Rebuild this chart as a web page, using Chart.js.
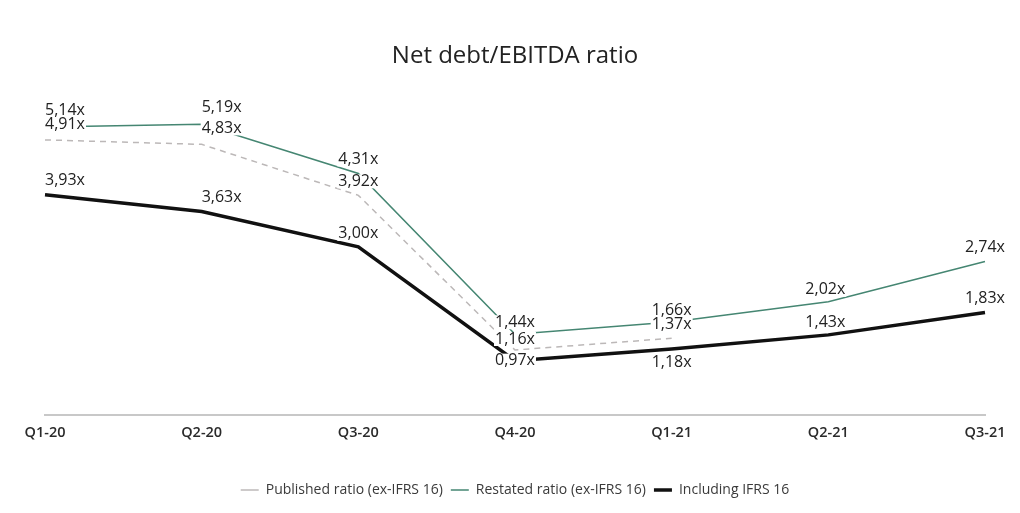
<!DOCTYPE html>
<html>
<head>
<meta charset="utf-8">
<script src="https://cdn.jsdelivr.net/npm/chart.js@4"></script>
<style>
  html, body { margin: 0; padding: 0; background: #fff; }
  #wrap { width: 1020px; height: 513px; }
</style>
</head>
<body>
<div id="wrap"><canvas id="ratiochart" width="1020" height="513"></canvas></div>
<script>
const quarters = ['Q1-20', 'Q2-20', 'Q3-20', 'Q4-20', 'Q1-21', 'Q2-21', 'Q3-21'];
const published = [4.91, 4.83, 3.92, 1.16, 1.37, null, null];
const restated = [5.14, 5.19, 4.31, 1.44, 1.66, 2.02, 2.74];
const inclIfrs = [3.93, 3.63, 3.00, 0.97, 1.18, 1.43, 1.83];

// label offsets (style only): horizontal shift per quarter, vertical per series
const labelDx = [20, 20, 0, 0, 0, -3, 0];
const labelDy = [
    [-15, -16, -14, -11, -14, -14, -14],
    [-17, -17, -14, -12, -12, -12, -14],
    [-14, -14, -13, 0, 14, -12, -14]
];

const fmt = v => v.toFixed(2).replace('.', ',') + 'x';

const pointLabels = {
    id: 'pointLabels',
    afterDatasetsDraw(chart) {
        const c = chart.ctx;
        c.save();
        c.font = '16px "Open Sans"';
        c.textAlign = 'center';
        c.textBaseline = 'middle';
        chart.data.datasets.forEach((ds, di) => {
            const meta = chart.getDatasetMeta(di);
            meta.data.forEach((pt, i) => {
                const v = ds.data[i];
                if (v === null || v === undefined) return;
                const txt = fmt(v);
                const x = pt.x + labelDx[i];
                const y = pt.y + labelDy[di][i];
                const w = c.measureText(txt).width;
                c.fillStyle = '#fff';
                c.fillRect(x - w / 2 - 1, y - 7, w + 2, 14);
                c.fillStyle = '#222';
                c.fillText(txt, x, y);
            });
        });
        c.restore();
    }
};

const ctx = document.getElementById('ratiochart').getContext('2d');
const ratiochart = new Chart(ctx, {
    type: 'line',
    data: {
        labels: quarters,
        datasets: [{
            label: 'Published ratio (ex-IFRS 16)',
            data: published,
            borderColor: '#bcb8b8',
            borderWidth: 1.5,
            borderDash: [6, 5],
            pointRadius: 0,
            tension: 0
        }, {
            label: 'Restated ratio (ex-IFRS 16)',
            data: restated,
            borderColor: '#458672',
            borderWidth: 1.5,
            pointRadius: 0,
            tension: 0
        }, {
            label: 'Including IFRS 16',
            data: inclIfrs,
            borderColor: '#111111',
            borderWidth: 3.5,
            pointRadius: 0,
            tension: 0
        }]
    },
    options: {
        responsive: false,
        animation: false,
        layout: { padding: { left: 45, right: 35, top: 0, bottom: 6 } },
        scales: {
            x: {
                offset: false,
                grid: { display: false, drawTicks: false },
                border: { display: true, color: '#c8c8c8', width: 2 },
                ticks: { color: '#2a2a2a', font: { family: 'Open Sans', size: 14.5, weight: '600' }, padding: 9 },
                afterFit(scale) { scale.height = 60; }
            },
            y: {
                display: false,
                min: 0,
                max: 6
            }
        },
        plugins: {
            title: {
                display: true,
                text: 'Net debt/EBITDA ratio',
                color: '#222',
                font: { family: 'Open Sans', size: 24, weight: 'normal' },
                padding: { top: 42, bottom: 8 }
            },
            legend: {
                position: 'bottom',
                labels: {
                    color: '#3a3a3a',
                    font: { family: 'Open Sans', size: 14 },
                    usePointStyle: true,
                    pointStyle: 'line',
                    pointStyleWidth: 18,
                    boxHeight: 10,
                    padding: 8
                }
            },
            tooltip: { enabled: false }
        }
    },
    plugins: [pointLabels]
});
</script>
</body>
</html>
